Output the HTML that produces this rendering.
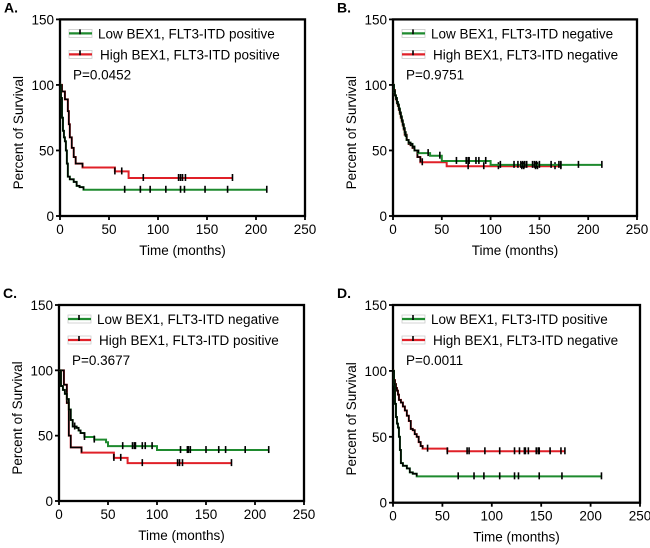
<!DOCTYPE html>
<html><head><meta charset="utf-8"><style>
body{margin:0;background:#fff;}
svg{display:block;font-family:"Liberation Sans",Arial,sans-serif;}
</style></head><body>
<svg id="fig" width="650" height="548" viewBox="0 0 650 548"></svg>
<script>
// ---- data ----
const xTicks=[0,50,100,150,200,250];
const yTicks=[0,50,100,150];
const panelLetters=["A.","B.","C.","D."];
const lowLabels=["Low BEX1, FLT3-ITD positive","Low BEX1, FLT3-ITD negative","Low BEX1, FLT3-ITD negative","Low BEX1, FLT3-ITD positive"];
const highLabels=["High BEX1, FLT3-ITD positive","High BEX1, FLT3-ITD negative","High BEX1, FLT3-ITD positive","High BEX1, FLT3-ITD negative"];
const pValues=["P=0.0452","P=0.9751","P=0.3677","P=0.0011"];

const aLowT=[0,1,2,3,4,5,6,7,8,10,14,17,20,24];
const aLowS=[100,90,75,65,60,57,50,40,30,28,26,23,22,20];
const aLowEnd=211;
const aLowCens=[66,82,92,108,123,127,148,171,211];
const aHighT=[0,2,5,8,9,10,12,14,16,23,56,70];
const aHighS=[100,95,89,80,70,60,52,45,40,37,34,29];
const aHighEnd=176;
const aHighCens=[56,63,85,121,123,125,128,176];

const bLowT=[0,1,2,3,4,5,6,7,8,9,10,11,12,13,14,16,18,20,22,26,38,50,100];
const bLowS=[100,95,92,90,87,85,82,79,76,73,70,67,64,61,58,56,55,53,50,48,46,42,39];
const bLowEnd=214;
const bLowCens=[36,48,65,75,77,78,85,88,95,110,124,128,131,133,135,137,143,145,147,150,162,170,172,190,214];
const bHighT=[0,1,2,3,4,5,6,7,8,9,10,11,12,14,16,18,20,22,25,28,55];
const bHighS=[100,96,92,89,86,84,81,78,75,72,69,66,62,58,55,54,52,50,45,41,38];
const bHighEnd=172;
const bHighCens=[30,77,93,108,132,134,146,148,166,172];

const cLowT=[0,2,4,6,8,10,12,14,18,20,22,26,36,48,50,100];
const cLowS=[100,88,85,82,78,70,62,57,56,54,52,49,47,45,42,39];
const cLowEnd=214;
const cLowCens=[16,26,36,65,75,77,78,85,88,95,124,131,132,134,150,163,170,190,214];
const cHighT=[0,5,8,10,12,23,56,70];
const cHighS=[100,89,75,50,41,37,33,29];
const cHighEnd=176;
const cHighCens=[56,63,85,121,123,126,176];

const dLowT=[0,1,2,3,4,5,6,7,8,10,14,17,20,24];
const dLowS=[100,90,75,65,60,57,50,40,30,28,26,23,22,20];
const dLowEnd=211;
const dLowCens=[66,82,92,108,123,127,148,171,211];
const dHighT=[0,1,2,3,4,5,6,8,10,12,14,16,18,20,22,24,26,28,30,55];
const dHighS=[100,93,90,87,85,82,78,76,73,70,66,62,56,55,52,50,46,43,41,39];
const dHighEnd=174;
const dHighCens=[35,55,75,77,93,108,123,128,133,134,137,145,147,148,159,170,174];

const series=[
 [[aLowT,aLowS,aLowEnd,aLowCens],[aHighT,aHighS,aHighEnd,aHighCens]],
 [[bLowT,bLowS,bLowEnd,bLowCens],[bHighT,bHighS,bHighEnd,bHighCens]],
 [[cLowT,cLowS,cLowEnd,cLowCens],[cHighT,cHighS,cHighEnd,cHighCens]],
 [[dLowT,dLowS,dLowEnd,dLowCens],[dHighT,dHighS,dHighEnd,dHighCens]]
];
// panel geometry: x0,x250,y0,y150
const geo=[[60,305,216,19.4],[393,637,216,19.4],[59,304,501,305],[393,640,502.7,305]];

const NS="http://www.w3.org/2000/svg";
const svg=document.getElementById('fig');
function mk(tag,attrs,parent){const e=document.createElementNS(NS,tag);for(const k in attrs)e.setAttribute(k,attrs[k]);(parent||svg).appendChild(e);return e;}

geo.forEach((g,pi)=>{
  const [X0,X1,Y0,Y1]=g;
  const x=v=>X0+(X1-X0)*v/250;
  const y=v=>Y0+(Y1-Y0)*v/150;
  const G=mk('g',{});
  
  
  const lt=mk('text',{x:X0-56,y:Y1-7,'font-size':14,'font-weight':'bold',fill:'#000'},G);
  lt.textContent=panelLetters[pi];
  
  
  const fr=mk('rect',{x:X0,y:Y1,width:X1-X0,height:Y0-Y1,fill:'none',stroke:'#000','stroke-width':2.3},G);
  
  
  xTicks.forEach(t=>{
    mk('line',{x1:x(t),x2:x(t),y1:Y0,y2:Y0+4,stroke:'#000','stroke-width':1.8},G);
    const tx=mk('text',{x:x(t),y:Y0+18,'font-size':13.5,'text-anchor':'middle'},G);
    tx.textContent=t;
    
    
  });
  yTicks.forEach(t=>{
    mk('line',{x1:X0-4,x2:X0,y1:y(t),y2:y(t),stroke:'#000','stroke-width':1.8},G);
    const tx=mk('text',{x:X0-6,y:y(t)+5,'font-size':13.5,'text-anchor':'end'},G);
    tx.textContent=t;
    
    
  });
  const xt=mk('text',{x:(X0+X1)/2,y:Y0+39,'font-size':13.5,'text-anchor':'middle'},G);
  xt.textContent='Time (months)';
  
  
  const yc=(Y0+Y1)/2+15;
  const yt=mk('text',{x:X0-37,y:yc,'font-size':13.5,'text-anchor':'middle',transform:`rotate(-90 ${X0-37} ${yc})`},G);
  yt.textContent='Percent of Survival';
  
  
  const cols=['#1e8a2e','#e02028'];
  const labs=[lowLabels[pi],highLabels[pi]];
  labs.forEach((lab,i)=>{
    const ly=Y1+14+i*21;
    mk('rect',{x:X0+9,y:ly-4,width:23,height:8,fill:'none',stroke:'#ccc','stroke-width':0.8},G);
    mk('line',{x1:X0+9,x2:X0+32,y1:ly,y2:ly,stroke:cols[i],'stroke-width':2.2},G);
    mk('line',{x1:X0+20,x2:X0+20,y1:ly-4,y2:ly+1,stroke:'#000','stroke-width':1.6},G);
    const lt2=mk('text',{x:X0+38+i*2,y:ly+5,'font-size':13.5},G);
    lt2.textContent=lab;
    
    
  });
  const pt=mk('text',{x:X0+13,y:Y1+60,'font-size':13.5},G);
  pt.textContent=pValues[pi];
  
  
  [1,0].forEach(si=>{
    const [T,S,E,C]=series[pi][si];
    let d=`M${x(T[0])},${y(S[0])}`;
    for(let i=1;i<T.length;i++){d+=` H${x(T[i])} V${y(S[i])}`;}
    d+=` H${x(E)}`;
    const p=mk('path',{d:d,fill:'none',stroke:cols[si],'stroke-width':2},G);
    
    
    let d2=`M${x(T[0])},${y(S[0])}`;
    for(let i=1;i<T.length;i++){if(T[i]>30)break;d2+=` H${x(T[i])} V${y(S[i])}`;}
    mk('path',{d:d2,fill:'none',stroke:'#000','stroke-width':1.6},G);
    C.forEach(c=>{
      let v=S[0];for(let i=0;i<T.length;i++){if(T[i]<=c)v=S[i];}
      const m=mk('line',{x1:x(c),x2:x(c),y1:y(v)-4,y2:y(v)+3,stroke:'#000','stroke-width':1.6},G);
      
      
    });
  });
});
</script>
</body></html>
